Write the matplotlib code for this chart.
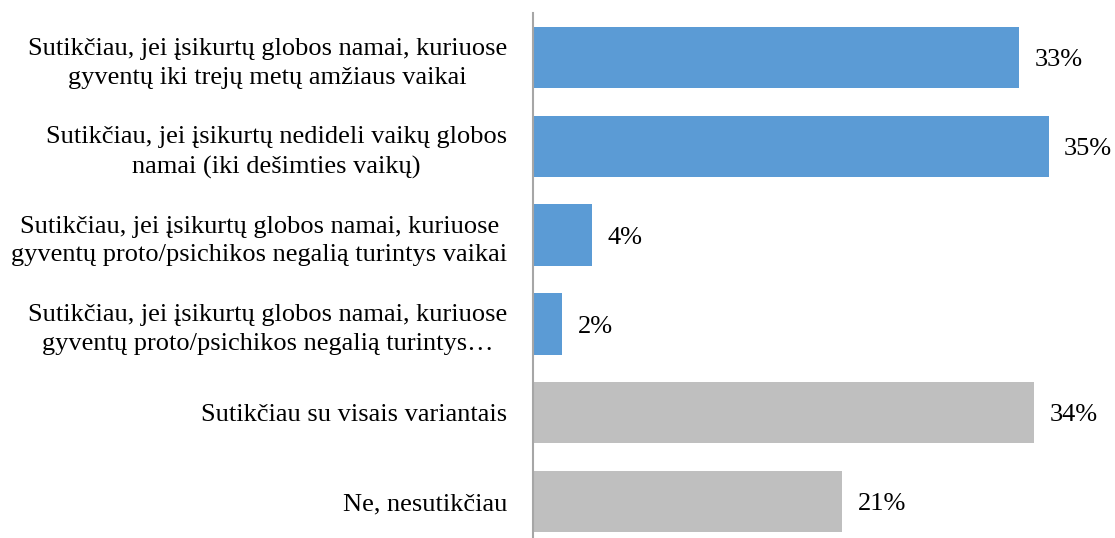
import numpy as np
import matplotlib.pyplot as plt

labels = [
    'Sutikčiau, jei įsikurtų globos namai, kuriuose\ngyventų iki trejų metų amžiaus vaikai',
    'Sutikčiau, jei įsikurtų nedideli vaikų globos\nnamai (iki dešimties vaikų)',
    'Sutikčiau, jei įsikurtų globos namai, kuriuose\ngyventų proto/psichikos negalią turintys vaikai',
    'Sutikčiau, jei įsikurtų globos namai, kuriuose\ngyventų proto/psichikos negalią turintys…',
    'Sutikčiau su visais variantais',
    'Ne, nesutikčiau',
]
values = [33, 35, 4, 2, 34, 21]
colors = ['#5B9BD5', '#5B9BD5', '#5B9BD5', '#5B9BD5', '#BFBFBF', '#BFBFBF']

plt.rcParams['font.family'] = ['Liberation Serif', 'DejaVu Serif']

fig = plt.figure(figsize=(11.15, 5.38), dpi=100)
ax = fig.add_axes([533/1115, -8/538, 582/1115, 533/538])

y = np.arange(len(values))
ax.barh(y, values, height=0.69, color=colors)
ax.set_ylim(len(values) - 0.5, -0.5)
ax.set_xlim(0, 39.5)

for yi, v in zip(y, values):
    ax.text(v + 1.05, yi + 0.03, f'{v}%', va='center', ha='left', fontsize=19, color='black')

ax.set_yticks(y)
ax.set_yticklabels(labels, fontsize=19, ha='right', multialignment='center', linespacing=1.4)
ax.tick_params(axis='y', length=0, pad=18.5)
ax.set_xticks([])
for s in ['top', 'right', 'bottom']:
    ax.spines[s].set_visible(False)
ax.spines['left'].set_color('#A6A6A6')
ax.spines['left'].set_linewidth(1.5)

fig.savefig('out.png', dpi=100)
